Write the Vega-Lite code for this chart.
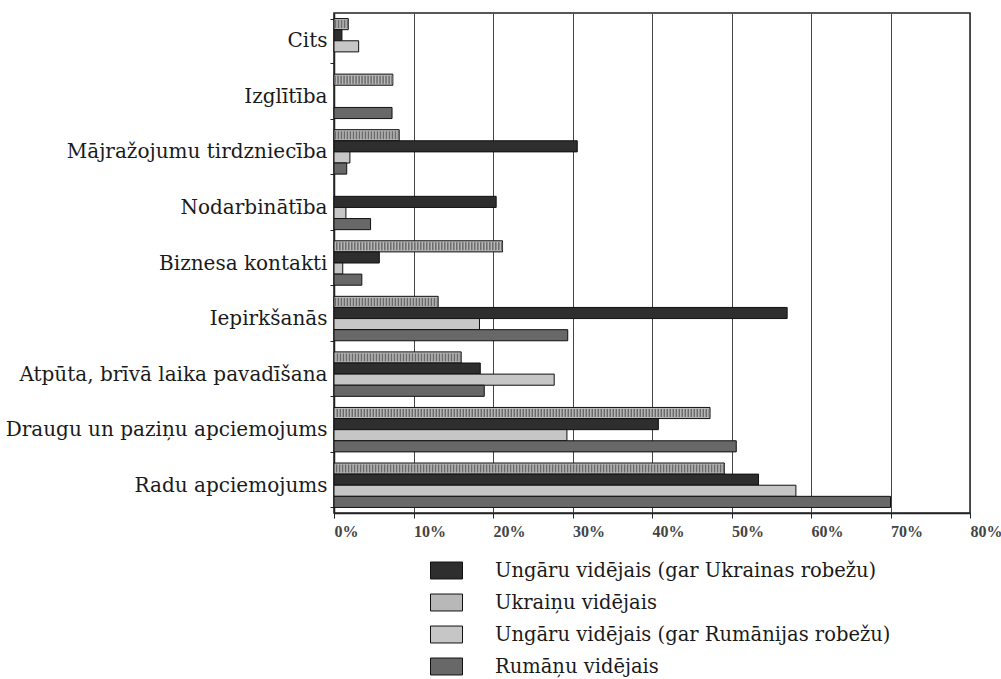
{
  "$schema": "https://vega.github.io/schema/vega-lite/v6.json",
  "width": 636,
  "height": 500,
  "autosize": {"type": "none"},
  "padding": {"left": 334, "top": 13, "right": 31, "bottom": 166},
  "background": "white",
  "config": {"view": {"stroke": "#222", "strokeWidth": 1.5}, "font": "DejaVu Serif"},
  "data": {
    "values": [
      {"cat": "Cits", "grp": "Ukraiņu vidējais", "v": 1.8},
      {"cat": "Cits", "grp": "Ungāru vidējais (gar Ukrainas robežu)", "v": 1.0},
      {"cat": "Cits", "grp": "Ungāru vidējais (gar Rumānijas robežu)", "v": 3.1},
      {"cat": "Izglītība", "grp": "Ukraiņu vidējais", "v": 7.4},
      {"cat": "Izglītība", "grp": "Rumāņu vidējais", "v": 7.3},
      {"cat": "Mājražojumu tirdzniecība", "grp": "Ukraiņu vidējais", "v": 8.2},
      {"cat": "Mājražojumu tirdzniecība", "grp": "Ungāru vidējais (gar Ukrainas robežu)", "v": 30.6},
      {"cat": "Mājražojumu tirdzniecība", "grp": "Ungāru vidējais (gar Rumānijas robežu)", "v": 2.0},
      {"cat": "Mājražojumu tirdzniecība", "grp": "Rumāņu vidējais", "v": 1.6},
      {"cat": "Nodarbinātība", "grp": "Ungāru vidējais (gar Ukrainas robežu)", "v": 20.4},
      {"cat": "Nodarbinātība", "grp": "Ungāru vidējais (gar Rumānijas robežu)", "v": 1.5},
      {"cat": "Nodarbinātība", "grp": "Rumāņu vidējais", "v": 4.6},
      {"cat": "Biznesa kontakti", "grp": "Ukraiņu vidējais", "v": 21.2},
      {"cat": "Biznesa kontakti", "grp": "Ungāru vidējais (gar Ukrainas robežu)", "v": 5.7},
      {"cat": "Biznesa kontakti", "grp": "Ungāru vidējais (gar Rumānijas robežu)", "v": 1.1},
      {"cat": "Biznesa kontakti", "grp": "Rumāņu vidējais", "v": 3.5},
      {"cat": "Iepirkšanās", "grp": "Ukraiņu vidējais", "v": 13.1},
      {"cat": "Iepirkšanās", "grp": "Ungāru vidējais (gar Ukrainas robežu)", "v": 57.0},
      {"cat": "Iepirkšanās", "grp": "Ungāru vidējais (gar Rumānijas robežu)", "v": 18.3},
      {"cat": "Iepirkšanās", "grp": "Rumāņu vidējais", "v": 29.4},
      {"cat": "Atpūta, brīvā laika pavadīšana", "grp": "Ukraiņu vidējais", "v": 16.0},
      {"cat": "Atpūta, brīvā laika pavadīšana", "grp": "Ungāru vidējais (gar Ukrainas robežu)", "v": 18.4},
      {"cat": "Atpūta, brīvā laika pavadīšana", "grp": "Ungāru vidējais (gar Rumānijas robežu)", "v": 27.7},
      {"cat": "Atpūta, brīvā laika pavadīšana", "grp": "Rumāņu vidējais", "v": 18.9},
      {"cat": "Draugu un paziņu apciemojums", "grp": "Ukraiņu vidējais", "v": 47.3},
      {"cat": "Draugu un paziņu apciemojums", "grp": "Ungāru vidējais (gar Ukrainas robežu)", "v": 40.8},
      {"cat": "Draugu un paziņu apciemojums", "grp": "Ungāru vidējais (gar Rumānijas robežu)", "v": 29.3},
      {"cat": "Draugu un paziņu apciemojums", "grp": "Rumāņu vidējais", "v": 50.6},
      {"cat": "Radu apciemojums", "grp": "Ukraiņu vidējais", "v": 49.1},
      {"cat": "Radu apciemojums", "grp": "Ungāru vidējais (gar Ukrainas robežu)", "v": 53.4},
      {"cat": "Radu apciemojums", "grp": "Ungāru vidējais (gar Rumānijas robežu)", "v": 58.1},
      {"cat": "Radu apciemojums", "grp": "Rumāņu vidējais", "v": 70.0}
    ]
  },
  "encoding": {
    "y": {
      "field": "cat",
      "type": "nominal",
      "sort": ["Cits", "Izglītība", "Mājražojumu tirdzniecība", "Nodarbinātība", "Biznesa kontakti", "Iepirkšanās", "Atpūta, brīvā laika pavadīšana", "Draugu un paziņu apciemojums", "Radu apciemojums"],
      "scale": {"paddingInner": 0.2, "paddingOuter": 0.1},
      "axis": {
        "title": null,
        "labelFont": "DejaVu Serif",
        "labelFontSize": 20,
        "labelColor": "#1a1a1a",
        "labelLimit": 0,
        "tickBand": "extent",
        "tickSize": 4,
        "tickColor": "#222",
        "labelPadding": 3,
        "domainColor": "#222",
        "domainWidth": 1.5
      }
    },
    "yOffset": {
      "field": "grp",
      "sort": ["Ukraiņu vidējais", "Ungāru vidējais (gar Ukrainas robežu)", "Ungāru vidējais (gar Rumānijas robežu)", "Rumāņu vidējais"],
      "scale": {"paddingInner": 0, "paddingOuter": 0}
    },
    "x": {
      "field": "v",
      "type": "quantitative",
      "scale": {"domain": [0, 80]},
      "axis": {
        "title": null,
        "values": [0, 10, 20, 30, 40, 50, 60, 70, 80],
        "labelExpr": "datum.value + '%'",
        "labelFont": "Liberation Serif",
        "labelFontSize": 16,
        "labelFontWeight": "bold",
        "labelColor": "#444",
        "labelAlign": "left",
        "labelDx": -3,
        "labelPadding": 5,
        "tickSize": 5,
        "tickColor": "#222",
        "domainColor": "#222",
        "domainWidth": 1.5,
        "grid": true,
        "gridColor": "#444",
        "gridWidth": 1
      }
    }
  },
  "layer": [
    {
      "mark": {"type": "bar", "stroke": "#111", "strokeWidth": 1},
      "encoding": {
        "color": {
          "field": "grp",
          "type": "nominal",
          "scale": {
            "domain": ["Ungāru vidējais (gar Ukrainas robežu)", "Ukraiņu vidējais", "Ungāru vidējais (gar Rumānijas robežu)", "Rumāņu vidējais"],
            "range": ["#2e2e2e", "#b8b8b8", "#c6c6c6", "#686868"]
          },
          "legend": {
            "title": null,
            "orient": "none",
            "legendX": 96,
            "legendY": 541,
            "padding": 0,
            "symbolType": "M-1,-0.53H1V0.53H-1Z",
            "symbolSize": 1024,
            "symbolStrokeColor": "#111",
            "symbolStrokeWidth": 1,
            "symbolOpacity": 1,
            "labelFont": "DejaVu Serif",
            "labelFontSize": 19.5,
            "labelColor": "#1a1a1a",
            "labelLimit": 0,
            "labelOffset": 32,
            "rowPadding": 5
          }
        }
      }
    },
    {
      "transform": [{"filter": "datum.grp === 'Ukraiņu vidējais'"}],
      "mark": {"type": "rule", "color": "#6a6a6a", "strokeWidth": 8, "strokeDash": [1.5, 1.5]},
      "encoding": {
        "x2": {"datum": 0}
      }
    }
  ]
}
